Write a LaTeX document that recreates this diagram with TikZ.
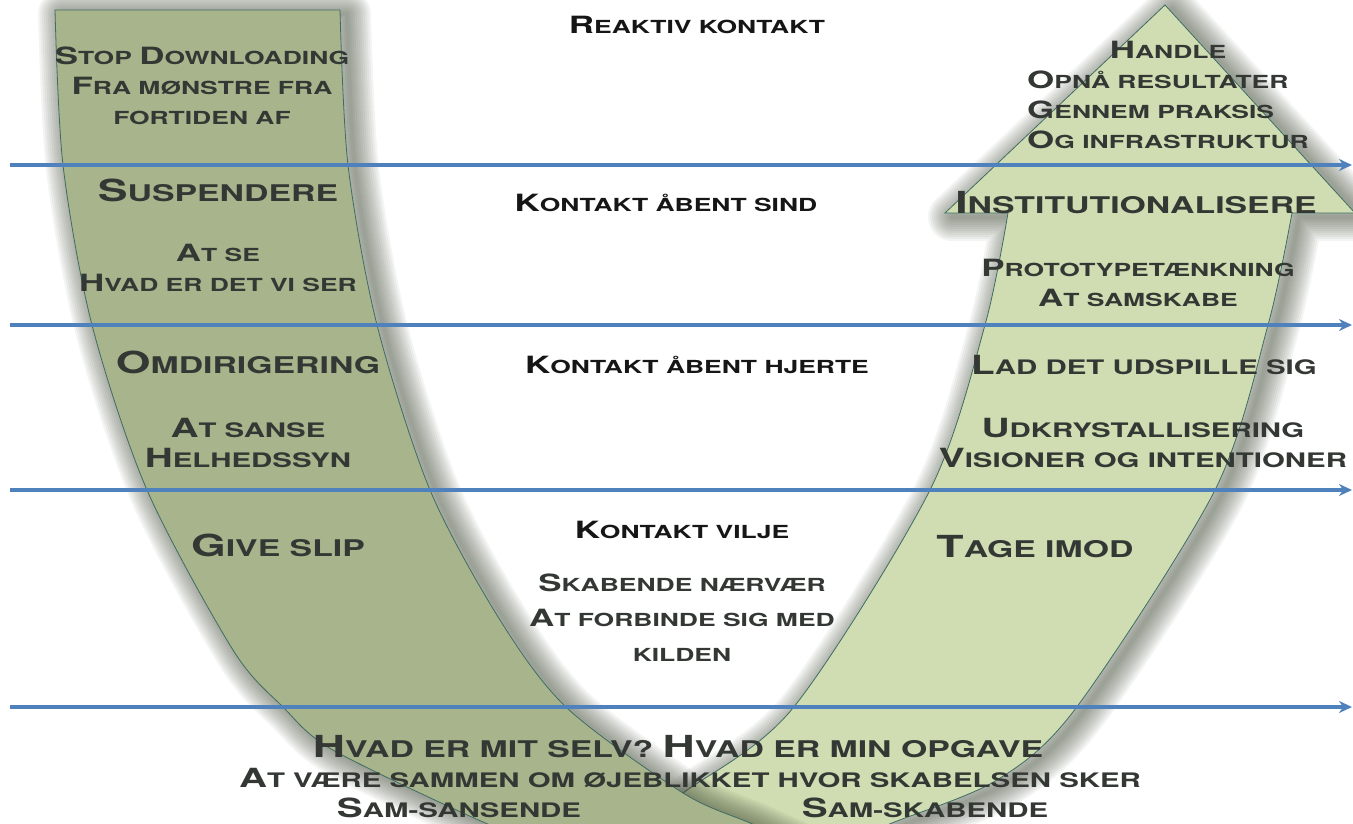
\documentclass[tikz,border=0pt]{standalone}
\usepackage{fontspec}
\setmainfont{TeX Gyre Heros}[FakeStretch=1.47]
\usepackage{graphicx}
\usetikzlibrary{arrows.meta}

\definecolor{sagedark}{RGB}{168,180,140}
\definecolor{sagelight}{RGB}{208,221,178}
\definecolor{armedge}{RGB}{62,108,98}
\definecolor{armglow}{RGB}{55,66,45}
\definecolor{flowblue}{RGB}{79,129,189}
\definecolor{armtext}{RGB}{52,56,52}
\definecolor{midtext}{RGB}{22,22,22}

\newcommand\up[1]{\scalebox{1.32}{#1}}
\newcommand\risepath{(1165,5) -- (1355,213) -- (1292,213)
  -- plot[smooth] coordinates {(1292,213) (1268,325) (1215,490) (1076,708) (997,780) (892,823) (840,845)}
  -- (610,845)
  -- plot[smooth] coordinates {(610,845) (683,793) (793,708) (930,490) (985,325) (1008,213)}
  -- (945,213) -- cycle}
\newcommand\sinkpath{(340,10) -- (55,10)
  -- plot[smooth] coordinates {(55,10) (63,165) (92,325) (147,490) (233,650) (283,707) (333,750) (483,822) (560,850)}
  -- (805,848)
  -- plot[smooth] coordinates {(805,848) (750,823) (683,793) (567,708) (500,620) (430,490) (377,325) (348,165) (340,10)}
  -- cycle}

\tikzset{
  glow/.style={draw=armglow, draw opacity=0.055, line width=#1, line join=round,
    transform canvas={xshift=7pt, yshift=-4pt}},
  arm/.style={draw=armedge, line width=0.8pt},
  flow/.style={draw=flowblue, line width=3.2pt, -{Stealth[length=13pt,width=12pt]}},
  lbl/.style={font=\bfseries\fontsize{18}{30}\selectfont, text=armtext, align=center, inner sep=0pt},
  widelbl/.style={lbl, font=\bfseries\fontsize{20}{30}\selectfont},
  biglbl/.style={lbl, font=\bfseries\fontsize{23}{30}\selectfont},
  midlbl/.style={lbl, text=midtext}
}

\begin{document}
\begin{tikzpicture}[x=1pt, y=-1pt]
\useasboundingbox (0,0) rectangle (1353,823);
\clip (0,0) rectangle (1353,823);

\foreach \w in {4,8,...,48}
  \draw[glow=\w pt] \risepath;
\path[arm, fill=sagelight] \risepath;

\foreach \w in {4,8,...,48}
  \draw[glow=\w pt] \sinkpath;
\path[arm, fill=sagedark] \sinkpath;

\foreach \i/\y in {1/165,2/325,3/490,4/707}{
  \coordinate (from\i) at (10,\y);
  \coordinate (to\i) at (1352,\y);
  \draw[flow] (from\i) -- (to\i);
}

\node[lbl] (stop) at (202,86) {\up{S}TOP \up{D}OWNLOADING\\ \up{F}RA MØNSTRE FRA\\ FORTIDEN AF};
\node[biglbl] (susp) at (218,190) {\up{S}USPENDERE};
\node[lbl] (atse) at (218,268) {\up{A}T SE\\ \up{H}VAD ER DET VI SER};
\node[biglbl] (omdir) at (248,362) {\up{O}MDIRIGERING};
\node[widelbl] (sanse) at (248,443) {\up{A}T SANSE\\ \up{H}ELHEDSSYN};
\node[biglbl] (slip) at (278,545) {\up{G}IVE SLIP};

\node[midlbl] (reaktiv) at (697,25) {\up{R}EAKTIV KONTAKT};
\node[midlbl] (sind) at (666,203) {\up{K}ONTAKT ÅBENT SIND};
\node[midlbl] (hjerte) at (697,365) {\up{K}ONTAKT ÅBENT HJERTE};
\node[midlbl] (vilje) at (682,530) {\up{K}ONTAKT VILJE};
\node[lbl, font=\bfseries\fontsize{18}{35}\selectfont] (kilde) at (682,618) {\up{S}KABENDE NÆRVÆR\\ \up{A}T FORBINDE SIG MED\\ KILDEN};

\node[lbl] (handle) at (1168,50) {\up{H}ANDLE};
\node[lbl, align=left, anchor=west] (praksis) at (1027,110) {\up{O}PNÅ RESULTATER\\ \up{G}ENNEM PRAKSIS\\ \up{O}G INFRASTRUKTUR};
\node[biglbl] (inst) at (1136,203) {\up{I}NSTITUTIONALISERE};
\node[lbl] (proto) at (1138,283) {\up{P}ROTOTYPETÆNKNING\\ \up{A}T SAMSKABE};
\node[widelbl] (udspil) at (1144,365) {\up{L}AD DET UDSPILLE SIG};
\node[widelbl] (udkry) at (1143,443) {\up{U}DKRYSTALLISERING\\ \up{V}ISIONER OG INTENTIONER};
\node[biglbl] (tage) at (1035,547) {\up{T}AGE IMOD};

\node[biglbl] (selv) at (678,747) {\up{H}VAD ER MIT SELV? \up{H}VAD ER MIN OPGAVE};
\node[widelbl] (sammen) at (690,778) {\up{A}T VÆRE SAMMEN OM ØJEBLIKKET HVOR SKABELSEN SKER};
\node[widelbl] (sansende) at (459,808) {\up{S}AM-SANSENDE};
\node[widelbl] (skabende) at (925,808) {\up{S}AM-SKABENDE};
\end{tikzpicture}
\end{document}
